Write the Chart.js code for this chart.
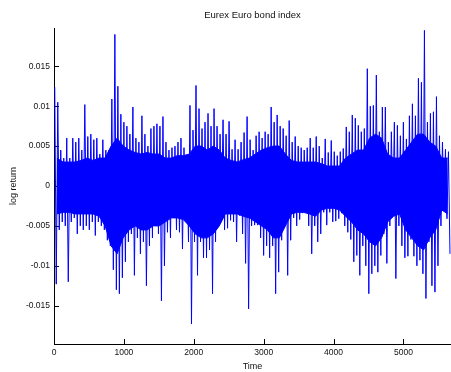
<!DOCTYPE html>
<html>
<head>
<meta charset="utf-8">
<script src="https://cdn.jsdelivr.net/npm/chart.js@4.4.1/dist/chart.umd.min.js"></script>
<style>
  html, body { margin: 0; padding: 0; background: #fff; }
</style>
</head>
<body>
<canvas id="bondChart" width="451" height="372"></canvas>
<script>
// ===== Data: log return (x 0.001), upper and lower swing per ~43 time steps =====
const upper = [
  12.4, 10.5, 4.5, 3.5, 6, 3.5, 6, 5.5, 6, 4.5, 10.2, 6.2, 6.5, 5.8, 6, 4, 5.8, 4.5, 4.5, 10.9, 19.0, 12.5,
  9, 8, 7.5, 6.5, 9.9, 6, 5.5, 8.8, 6.5, 5, 7.2, 7.5, 7.8, 7.5, 8.7, 5.5, 4.5, 4.8, 5, 5.5, 6, 4.8,
  3, 10.1, 7, 12.6, 9.7, 7.2, 8, 9.1, 7.5, 9.7, 7.5, 6.5, 8.3, 6.5, 8.1, 4.6, 5.8, 4.6, 5.5, 6.7, 8.7, 5.8,
  4.5, 6.3, 6.8, 6, 6.8, 6.5, 9.9, 8, 8.9, 7.5, 7.2, 6.3, 8.2, 5.5, 6.2, 5, 4.8, 4.5, 4.8, 6, 4.8, 6.2,
  5, 3.5, 5.9, 4.2, 5.7, 4.3, 3.8, 4.3, 4.7, 7.4, 6.8, 8.9, 8.5, 7.6, 6.8, 7.2, 14.7, 10, 10.1, 13.9, 6.8, 9.9,
  9.9, 5.5, 6.8, 8, 7.6, 6.3, 8, 5.9, 8.8, 10.3, 8.8, 13.5, 13, 19.5, 8, 9.1, 9.3, 11.2, 6.3, 5.5, 4.6, 4.3
];
const lower = [
  -12.3, -5.5, -4.5, -5, -12, -4.5, -4, -6, -5, -5.5, -5, -5.5, -4.5, -6.2, -4.5, -5, -5.5, -6.8, -7.5, -10.5, -13, -13.5,
  -11.5, -9.5, -7, -6, -11.2, -6.5, -8.5, -7, -12.5, -7.5, -6.5, -5, -6, -14.4, -10, -5.8, -6.5, -4, -5.5, -5.8, -7.9, -4,
  -7, -17.3, -7, -11.2, -7, -9, -9, -8, -13.5, -7, -5, -2.5, -5.5, -5.3, -4.3, -4.5, -7, -3.7, -6, -9.7, -15.4, -5,
  -4.9, -4.9, -6.5, -8.7, -7.5, -9, -7.5, -13.5, -10.8, -6.8, -3, -11.2, -6.8, -4, -5, -4.2, -3.4, -2.5, -5, -8.5, -5, -7,
  -6, -3.3, -4.9, -3.3, -4.5, -4.4, -4.1, -3.4, -5, -5.8, -6.7, -9.5, -8.7, -11.2, -7.5, -10, -13.5, -11, -10, -10.8, -8.7, -6,
  -9.7, -5, -3.5, -11.6, -5, -7.5, -9, -8.8, -6.7, -8.8, -10, -9.3, -11, -14.1, -7, -12.5, -13.3, -10, -5, -2.5, -4.1, -8.5
];
// dense core of the band (x 0.001), one value per ~86 time steps
const coreUpper = [
  3.5, 3, 3, 3, 3.2, 3.5, 3.2, 3.5, 3.5, 5, 6,
  5, 4.5, 4.2, 4, 4.2, 4, 4, 3.5, 3.5, 3.8, 3.8,
  4, 5, 5, 4.5, 5, 4.5, 3.5, 3.2, 3, 3.3, 3.5,
  4, 4.5, 4.8, 5, 5, 4, 3.2, 3, 3, 3, 3,
  2.8, 2.5, 2.5, 2.5, 3.5, 4, 4.5, 4.5, 6, 6.5, 6,
  4, 3.5, 3.5, 4.5, 5.5, 6.5, 6.5, 5.5, 5, 3.5, 3.5
];
const coreLower = [
  -3.5, -3.3, -3.3, -3.5, -3.5, -3.5, -3.5, -3.8, -5, -7.5, -8.5,
  -6.5, -5.5, -5, -5.5, -5.5, -5, -5, -4.5, -4, -4, -4.2,
  -5, -6, -6.5, -6.5, -6, -5, -3.5, -3.5, -3.5, -3.8, -4,
  -4.5, -5, -5.5, -6.5, -6.5, -5, -3.5, -3.3, -3.3, -3.5, -3.8,
  -3, -2.8, -2.8, -3, -3.8, -4.5, -5.5, -6, -7, -7.5, -6.5,
  -4.5, -3.8, -3.5, -5.5, -6.5, -7.5, -8, -6.5, -5.5, -3, -3.5
];
const timeStep = 21.5;          // time units between plotted swing values
const xTicks = [0, 1000, 2000, 3000, 4000, 5000];
const yTicks = [-0.015, -0.01, -0.005, 0, 0.005, 0.01, 0.015];

// ===== Build the series (hi, lo, hi, lo ...) =====
const points = [];
upper.forEach((hi, i) => {
    points.push({ x: (2 * i + 0.5) * timeStep, y: hi / 1000 });
    points.push({ x: (2 * i + 1.5) * timeStep, y: lower[i] / 1000 });
});
const coreHiPts = coreUpper.map((v, j) => ({ x: (4 * j + 2) * timeStep, y: v / 1000 }));
const coreLoPts = coreLower.map((v, j) => ({ x: (4 * j + 2) * timeStep, y: v / 1000 }));

// ===== Matlab style ticks pointing into the plot =====
const inwardTicks = {
    id: "inwardTicks",
    beforeDatasetsDraw(chart) {
        const ctx = chart.ctx;
        const area = chart.chartArea;
        const xs = chart.scales.x;
        const ys = chart.scales.y;
        ctx.save();
        ctx.strokeStyle = "#000";
        ctx.lineWidth = 1;
        ctx.beginPath();
        xs.ticks.forEach(t => {
            const px = Math.round(xs.getPixelForValue(t.value)) + 0.5;
            ctx.moveTo(px, area.bottom);
            ctx.lineTo(px, area.bottom - 5);
        });
        ys.ticks.forEach(t => {
            const py = Math.round(ys.getPixelForValue(t.value)) + 0.5;
            ctx.moveTo(area.left, py);
            ctx.lineTo(area.left + 5, py);
        });
        ctx.stroke();
        ctx.restore();
    }
};

const fontFamily = "'Liberation Sans', Arial, sans-serif";
const blue = "#0000ff";
const ctx = document.getElementById("bondChart").getContext("2d");

new Chart(ctx, {
    type: "line",
    data: {
        datasets: [{
            label: "log return",
            data: points,
            borderColor: blue,
            borderWidth: 1,
            pointRadius: 0,
            tension: 0,
            fill: false
        }, {
            label: "core upper",
            data: coreHiPts,
            borderColor: blue,
            borderWidth: 1,
            backgroundColor: blue,
            pointRadius: 0,
            tension: 0,
            fill: "+1"
        }, {
            label: "core lower",
            data: coreLoPts,
            borderColor: blue,
            borderWidth: 1,
            pointRadius: 0,
            tension: 0,
            fill: false
        }]
    },
    options: {
        responsive: false,
        animation: false,
        devicePixelRatio: 1,
        layout: { padding: { left: 0, right: 0, top: 0, bottom: 0 } },
        plugins: {
            legend: { display: false },
            tooltip: { enabled: false },
            title: {
                display: true,
                text: "Eurex Euro bond index",
                fullSize: false,
                color: "#111",
                font: { family: fontFamily, size: 9.5, weight: "normal" },
                padding: { top: 10, bottom: 6.6 }
            }
        },
        scales: {
            x: {
                type: "linear",
                min: 0,
                max: 5680,
                afterBuildTicks: s => { s.ticks = xTicks.map(v => ({ value: v })); },
                afterFit: s => { s.height = 28; },
                grid: { display: false, drawTicks: false },
                border: { display: true, color: "#000", width: 1 },
                ticks: {
                    color: "#111",
                    padding: 4,
                    maxRotation: 0,
                    font: { family: fontFamily, size: 8.5 },
                    callback: v => String(v)
                },
                title: {
                    display: true,
                    text: "Time",
                    color: "#111",
                    font: { family: fontFamily, size: 9 },
                    padding: { top: 0, bottom: 0 }
                }
            },
            y: {
                type: "linear",
                min: -0.0198,
                max: 0.0198,
                afterBuildTicks: s => { s.ticks = yTicks.map(v => ({ value: v })); },
                afterFit: s => { s.width = 54; },
                grid: { display: false, drawTicks: false },
                border: { display: true, color: "#000", width: 1 },
                ticks: {
                    color: "#111",
                    padding: 4,
                    font: { family: fontFamily, size: 8.5 },
                    callback: v => String(+v.toFixed(3))
                },
                title: {
                    display: true,
                    text: "log return",
                    color: "#111",
                    font: { family: fontFamily, size: 9 },
                    padding: { top: 8, bottom: 0 }
                }
            }
        }
    },
    plugins: [inwardTicks]
});
</script>
</body>
</html>
